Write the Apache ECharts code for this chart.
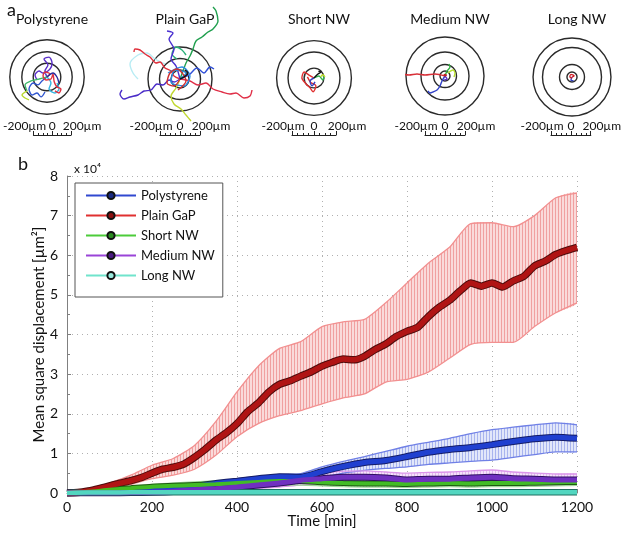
<!DOCTYPE html>
<html><head><meta charset="utf-8">
<script src="https://cdn.jsdelivr.net/npm/echarts@6/dist/echarts.min.js"></script>
<style>html,body{margin:0;padding:0;background:#fff}#c{width:624px;height:534px}</style>
</head><body><div id="c"></div>
<script>
// ---------- DATA ----------
const timeFine = [0,25,50,75,100,125,150,175,200,225,250,275,300,325,350,375,400,425,450,475,500,525,550,575,600,625,650,675,700,725,750,775,800,825,850,875,900,925,950,975,1000,1025,1050,1075,1100,1125,1150,1175,1200];
const timeCoarse = [0,50,100,150,200,250,300,350,400,450,500,550,600,650,700,750,800,850,900,950,1000,1050,1100,1150,1200];
const seriesNames = ['Polystyrene','Plain GaP','Short NW','Medium NW','Long NW'];
const xTicks = [0,200,400,600,800,1000,1200];
const yTicks = [0,1,2,3,4,5,6,7,8];

const gapMean = [0,0.01,0.05,0.11,0.18,0.25,0.31,0.39,0.5,0.6,0.65,0.73,0.9,1.1,1.33,1.52,1.75,2.05,2.27,2.55,2.74,2.83,2.95,3.06,3.2,3.3,3.38,3.36,3.45,3.62,3.76,3.95,4.08,4.18,4.45,4.68,4.86,5.1,5.3,5.22,5.3,5.2,5.35,5.47,5.73,5.85,6.02,6.12,6.2];
const gapHi = [0,0.08,0.25,0.45,0.7,0.87,1.2,1.8,2.55,3.2,3.65,3.82,4.2,4.32,4.38,4.8,5.3,5.8,6.2,6.8,6.82,6.72,7.0,7.45,7.57];
const gapLo = [0,0.02,0.1,0.22,0.36,0.45,0.6,0.95,1.42,1.75,1.95,2.08,2.25,2.4,2.5,2.8,2.87,3.05,3.4,3.75,3.8,3.8,4.2,4.55,4.8];

const polyMean = [0,0.02,0.05,0.08,0.11,0.14,0.17,0.24,0.3,0.36,0.41,0.4,0.54,0.67,0.77,0.82,0.92,1.03,1.1,1.15,1.22,1.3,1.37,1.41,1.38];
const polyHi = [0,0.03,0.07,0.1,0.14,0.18,0.22,0.29,0.36,0.42,0.47,0.49,0.66,0.8,0.92,1.05,1.18,1.28,1.38,1.5,1.6,1.66,1.72,1.77,1.72];
const polyLo = [0,0.01,0.03,0.05,0.08,0.1,0.12,0.18,0.24,0.3,0.36,0.33,0.4,0.5,0.57,0.62,0.66,0.72,0.76,0.8,0.83,0.9,0.97,1.04,1.04];

const shortMean = [0,0.03,0.08,0.12,0.16,0.18,0.2,0.22,0.25,0.28,0.3,0.3,0.27,0.25,0.24,0.24,0.23,0.24,0.25,0.24,0.25,0.25,0.26,0.27,0.28];
const shortHi = [0,0.05,0.11,0.17,0.22,0.25,0.28,0.31,0.34,0.37,0.4,0.4,0.37,0.35,0.34,0.34,0.33,0.34,0.35,0.34,0.35,0.35,0.36,0.37,0.38];
const shortLo = [0,0.01,0.05,0.08,0.1,0.11,0.12,0.13,0.16,0.19,0.2,0.2,0.18,0.16,0.15,0.15,0.14,0.15,0.16,0.15,0.16,0.16,0.17,0.18,0.19];

const mediumMean = [0,0,0,0.01,0.02,0.04,0.08,0.11,0.15,0.2,0.25,0.32,0.36,0.4,0.4,0.38,0.33,0.35,0.35,0.38,0.4,0.36,0.35,0.33,0.33];
const mediumHi = [0,0.01,0.01,0.02,0.04,0.07,0.12,0.17,0.22,0.28,0.35,0.44,0.5,0.55,0.56,0.53,0.5,0.52,0.53,0.56,0.58,0.53,0.5,0.48,0.48];
const mediumLo = [0,0,0,0,0.01,0.02,0.04,0.06,0.08,0.12,0.15,0.2,0.22,0.24,0.22,0.2,0.17,0.18,0.18,0.2,0.21,0.2,0.2,0.19,0.19];

const longMean = [0,0.01,0.01,0.02,0.02,0.02,0.02,0.02,0.02,0.02,0.02,0.02,0.02,0.02,0.02,0.02,0.02,0.02,0.02,0.02,0.02,0.02,0.02,0.02,0.02];

// panel a: ring radii (um) and trajectories (um)
const panelTitles = ['Polystyrene','Plain GaP','Short NW','Medium NW','Long NW'];
const scaleTicks = [-200,0,200];
const ringsPoly = [310,210,115];
const ringsGaP = [320,205,90];
const ringsShort = [340,236,90];
const ringsMedium = [390,240,115,50];
const ringsLong = [371,281,119,48];

const tracksPoly = [
 [[0,0],[-17,50],[8,100],[-25,150],[17,166],[42,116],[25,66],[-33,33],[-66,50],[-100,17],[-83,-25]],
 [[0,0],[-42,-33],[-75,-66],[-116,-50],[-150,-100],[-125,-150],[-83,-133],[-50,-166],[-17,-125]],
 [[0,0],[-66,-17],[-133,-33],[-183,-66],[-166,-116]],
 [[-166,-116],[-208,-150],[-183,-175],[-150,-190]],
 [[0,0],[33,-50],[17,-100],[66,-133],[100,-100],[83,-50]],
 [[0,0],[25,25],[-17,42],[-33,8],[-8,-25],[33,-17],[50,25],[60,-40],[83,-83],[116,-100],[100,-133],[66,-116]],
 [[0,0],[50,33],[83,0],[100,-50]]
];
const tracksGaP = [
 [[-150,150],[-250,200],[-330,260],[-420,240],[-500,150],[-470,60],[-420,0]],
 [[0,0],[-60,30],[-90,80],[-150,110],[-200,170],[-240,160],[-300,220],[-350,250],[-400,290],[-450,300],[-460,270]],
 [[0,0],[-60,-30],[-110,-10],[-170,-60],[-230,-50],[-290,-110],[-360,-120],[-420,-160],[-500,-180],[-560,-200],[-600,-150],[-580,-110]],
 [[0,0],[30,80],[60,160],[100,230],[130,300],[160,380],[220,420],[280,470],[330,500],[380,580],[360,680],[330,720]],
 [[-30,200],[-80,250],[-40,320],[20,290],[60,240]],
 [[0,0],[100,-20],[180,-60],[260,-40],[330,-100],[420,-130],[500,-150],[560,-140],[640,-190],[700,-170],[720,-110]],
 [[0,0],[-40,-90],[-90,-170],[-60,-250],[10,-300],[60,-360],[110,-420]],
 [[0,0],[-40,130],[-90,200],[-60,300],[-110,400],[-70,460],[-130,480]],
 [[0,0],[90,40],[170,110],[240,60],[300,120],[340,100]],
 [[0,0],[60,60],[-50,90],[-90,-30],[40,-70],[100,30],[20,120],[-120,60]],
 [[0,0],[-60,-70],[-130,-40],[-100,60],[-30,100],[60,-20],[-20,-110]],
 [[0,0],[40,20],[80,60],[50,90]]
];
const tracksShort = [
 [[0,0],[-45,27],[-90,54],[-110,0],[-72,-54],[-36,-90],[-9,-126],[18,-72],[-30,-40],[-60,10]],
 [[0,0],[-36,-27],[-18,-72],[9,-36]],
 [[0,0],[45,18],[81,-18],[90,18]],
 [[60,10],[80,30],[100,10]],
 [[0,0],[36,36],[63,54],[40,60]]
];
const tracksMedium = [
 [[0,0],[-100,20],[-200,10],[-280,20],[-360,10],[-400,15]],
 [[0,0],[-30,-50],[-50,-100],[-80,-140],[-120,-160],[-150,-170],[-170,-150]],
 [[0,0],[20,50],[50,90],[40,120]],
 [[30,30],[80,60],[100,30],[90,-10]],
 [[0,0],[20,-30],[-10,-40]],
 [[0,0],[15,10],[-10,15],[0,0]]
];
const tracksLong = [
 [[0,0],[-10,-30],[15,-35]],
 [[0,0],[20,10],[-10,25],[-20,0],[0,-10]]
];

// ---------- STYLE / LAYOUT ----------
const F = 'Lato, "Open Sans", sans-serif';
const panelLayout = [
 {cx:47, cy:77, s:0.12},
 {cx:180, cy:79, s:0.1},
 {cx:314, cy:78, s:0.11},
 {cx:445, cy:76, s:0.1},
 {cx:572, cy:77, s:0.105}
];
const barY = 135;
const panelRings = [ringsPoly, ringsGaP, ringsShort, ringsMedium, ringsLong];
const panelTracks = [tracksPoly, tracksGaP, tracksShort, tracksMedium, tracksLong];
const panelColors = [
 ['#5a2fc8','#2f55d0','#3cb86a','#b8d82a','#35b5e0','#e03040','#2a2a9a'],
 ['#b8ecf4','#e0303c','#4a2cc8','#22a050','#2cb07a','#e03048','#c0d830','#4a30d0','#3050d8','#2a8ce0','#d03030','#111111'],
 ['#e03030','#3040c0','#30b050','#c0e030','#111111'],
 ['#d83038','#3040c8','#30b040','#b8e030','#6030c0','#c02020'],
 ['#3040c0','#d02028']
];
const meanColors = ['#2040d0','#b01414','#42bc26','#7030c0','#52d6c0'];
const edgeColors = ['#141c66','#4e0c0c','#1e5a12','#2e1060','#1f6e60'];
const meanWidths = [5, 5.5, 4, 5, 4.5];
const markerColors = ['#1a2a80','#8a1010','#2a8a20','#4a1a80','#9ae8dc'];
const legendLineColors = ['#3048d0','#e03030','#4ccc3a','#9a44d8','#70e4cc'];

function hatch(bg, line){
  const c = document.createElement('canvas'); c.width = 3; c.height = 4;
  const g = c.getContext('2d');
  g.fillStyle = bg; g.fillRect(0,0,3,4);
  g.fillStyle = line; g.fillRect(0,0,1,4);
  return {image: c, repeat: 'repeat'};
}
const zip = (t, v) => t.map((x,i)=>[x, v[i]]);

// ---------- OPTION ----------
const grids = [{left:67, top:176, width:510, height:317, outerBoundsMode:'none', containLabel:false}];
const xAxes = [{
  gridIndex:0, type:'value', min:0, max:1200, interval:200,
  axisLine:{lineStyle:{color:'#808080'}},
  axisTick:{inside:true, length:4, lineStyle:{color:'#808080'}},
  axisLabel:{color:'#111', fontSize:14, fontFamily:F, margin:7,
    customValues: xTicks, formatter: v => String(v)},
  splitLine:{show:true, lineStyle:{color:'#b0b0b0', type:[1,4]}},
  name:'Time [min]', nameLocation:'middle', nameGap:21, nameMoveOverlap:false,
  nameTextStyle:{fontSize:15, color:'#111', fontFamily:F}
}];
const yAxes = [{
  gridIndex:0, type:'value', min:0, max:8, interval:1,
  axisLine:{show:true, lineStyle:{color:'#808080'}},
  axisTick:{show:true, inside:true, length:4, lineStyle:{color:'#808080'}},
  minorTick:{show:true, splitNumber:2, length:3, lineStyle:{color:'#808080'}},
  axisLabel:{color:'#111', fontSize:14, fontFamily:F, margin:9,
    customValues: yTicks, formatter: v => String(v)},
  splitLine:{show:true, lineStyle:{color:'#b0b0b0', type:[1,4]}},
  name:'Mean square displacement [µm²]', nameLocation:'middle', nameGap:20, nameMoveOverlap:false,
  nameTextStyle:{fontSize:15, color:'#111', fontFamily:F}
}];
const series = [];

panelLayout.forEach((p, i) => {
  const ga = 1 + 2*i, gb = 2 + 2*i;
  const hp = Math.min(p.cx, p.cy) - 1;
  const R = hp / p.s;
  grids.push({left:p.cx - hp, top:p.cy - hp, width:2*hp, height:2*hp, outerBoundsMode:'none', containLabel:false});
  xAxes.push({gridIndex:ga, type:'value', min:-R, max:R, show:false});
  yAxes.push({gridIndex:ga, type:'value', min:-R, max:R, show:false});
  grids.push({left:p.cx - 200*p.s, top:barY - 20, width:400*p.s, height:20});
  xAxes.push({
    gridIndex:gb, type:'value', min:-200, max:200, interval:200, position:'bottom',
    axisLine:{show:true, onZero:false, lineStyle:{color:'#222', width:1.2}},
    axisTick:{show:true, inside:true, length:4, lineStyle:{color:'#222'}},
    minorTick:{show:true, splitNumber:4, length:2, lineStyle:{color:'#222'}},
    splitLine:{show:false},
    axisLabel:{inside:true, margin:3, showMinLabel:true, showMaxLabel:true,
      customValues: scaleTicks,
      formatter: v => v < 0 ? '{l|' + v + 'µm}' : (v > 0 ? '{r|' + v + 'µm}' : '{c|0}'),
      rich:{
        l:{fontSize:12, color:'#111', fontFamily:F, padding:[0,18,0,0]},
        r:{fontSize:12, color:'#111', fontFamily:F, padding:[0,0,0,22]},
        c:{fontSize:12, color:'#111', fontFamily:F}
      }}
  });
  yAxes.push({gridIndex:gb, type:'value', min:0, max:1, show:false});
  series.push({
    type:'custom', xAxisIndex:ga, yAxisIndex:ga, clip:false, silent:true, z:2,
    data: panelRings[i].map(r => [r, 0]),
    renderItem:(params, api) => {
      const c = api.coord([0,0]);
      const r = api.size([api.value(0), 0])[0];
      return {type:'circle', shape:{cx:c[0], cy:c[1], r:r},
        style:{fill:'none', stroke:'#2a2a2a', lineWidth:1.4}};
    }
  });
  panelTracks[i].forEach((tr, k) => {
    series.push({
      type:'line', xAxisIndex:ga, yAxisIndex:ga, data:tr, clip:false, silent:true,
      showSymbol:false, symbol:'none', smooth:0.3, z:3,
      lineStyle:{color:panelColors[i][k % panelColors[i].length], width:1.4}
    });
  });
});

// error bands: hatched polygon between lo and hi + edge lines
function band(lo, hi, edge, bg, hl){
  const rows = timeCoarse.map((t, i) => [t, lo[i], hi[i]]);
  series.push({
    type:'custom', silent:true, clip:true, z:2,
    encode:{x:0, y:[1,2]}, data: rows,
    renderItem:(params, api) => {
      if (params.dataIndex !== 0) return null;
      const pts = [];
      rows.forEach(r => pts.push(api.coord([r[0], r[1]])));
      for (let k = rows.length - 1; k >= 0; k--) pts.push(api.coord([rows[k][0], rows[k][2]]));
      return {type:'polygon', shape:{points:pts, smooth:0.2},
        style:{fill:hatch(bg, hl), stroke:null}};
    }
  });
  [lo, hi].forEach(arr => series.push({
    type:'line', data:zip(timeCoarse, arr), symbol:'none', smooth:0.2, silent:true,
    lineStyle:{color:edge, width:1.3}, z:2
  }));
}
band(gapLo, gapHi, '#f29090', 'rgba(250,218,218,1)', 'rgba(240,160,160,1)');
band(polyLo, polyHi, '#7080e6', 'rgba(226,231,250,1)', 'rgba(168,180,238,1)');
band(mediumLo, mediumHi, '#dc96ea', 'rgba(245,226,250,1)', 'rgba(226,182,238,1)');
band(shortLo, shortHi, '#a0d898', 'rgba(230,246,228,1)', 'rgba(186,226,180,1)');

const meanData = [
  zip(timeCoarse, polyMean),
  zip(timeFine, gapMean),
  zip(timeCoarse, shortMean),
  zip(timeCoarse, mediumMean),
  zip(timeCoarse, longMean)
];
seriesNames.forEach((n, i) => {
  series.push({
    type:'line', data:meanData[i], smooth:0.2, symbol:'none', silent:true,
    lineStyle:{color:edgeColors[i], width:meanWidths[i] + 2}, z:4
  });
});
seriesNames.forEach((n, i) => {
  series.push({
    name:n, type:'line', data:meanData[i], smooth:0.2,
    showSymbol:false, symbol:'circle', symbolSize:7,
    lineStyle:{color:meanColors[i], width:meanWidths[i]},
    itemStyle:{color:markerColors[i], borderColor:'#111', borderWidth:1},
    z:5
  });
});

const option = {
  animation:false,
  title:[
    {text:'a', left:2, top:-4, textStyle:{fontSize:18, fontWeight:'normal', color:'#111', fontFamily:F}},
    {text:'b', left:13, top:150, textStyle:{fontSize:18, fontWeight:'normal', color:'#111', fontFamily:F}},
    {text:'x 10⁴', left:69, top:158, textStyle:{fontSize:12, fontWeight:'normal', color:'#111', fontFamily:F}}
  ].concat(panelTitles.map((t, i) => ({
    text:t, left:panelLayout[i].cx, top:7, textAlign:'center',
    textStyle:{fontSize:14, fontWeight:'normal', color:'#111', fontFamily:F}
  }))),
  legend:{
    orient:'vertical', left:75, top:183, padding:[6,8,15,10],
    itemWidth:50, itemHeight:9, itemGap:7,
    borderColor:'#555', borderWidth:1, backgroundColor:'#fff',
    textStyle:{fontSize:13, color:'#111', fontFamily:F},
    data: seriesNames.map((n, i) => ({name:n, lineStyle:{color:legendLineColors[i], width:2}}))
  },
  grid:grids, xAxis:xAxes, yAxis:yAxes, series:series
};
const chart = echarts.init(document.getElementById('c'), null, {renderer:'canvas'});
chart.setOption(option);
</script></body></html>
